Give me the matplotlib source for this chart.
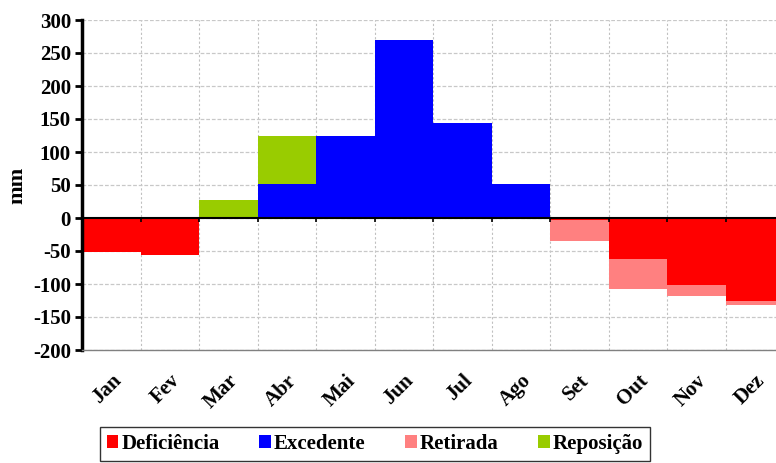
import matplotlib
matplotlib.use("Agg")
import matplotlib.pyplot as plt
import numpy as np
from matplotlib.patches import Patch

months = ["Jan", "Fev", "Mar", "Abr", "Mai", "Jun", "Jul", "Ago", "Set", "Out", "Nov", "Dez"]
deficiencia = [-51, -56, 0, 0, 0, 0, 0, 0, -3, -62, -101, -125]
retirada = [0, 0, 0, 0, 0, 0, 0, 0, -32, -46, -17, -7]
excedente = [0, 0, 0, 51, 124, 269, 144, 51, 0, 0, 0, 0]
reposicao = [0, 0, 28, 73, 0, 0, 0, 0, 0, 0, 0, 0]
yticks = list(range(-200, 301, 50))

c_def = "#FF0000"
c_exc = "#0000FF"
c_ret = "#FF8080"
c_rep = "#99CC00"

plt.rcParams["font.family"] = ["Liberation Serif", "DejaVu Serif"]
plt.rcParams["font.weight"] = "bold"

W, H = 776, 463
fig = plt.figure(figsize=(W / 100, H / 100), dpi=100)
ax = fig.add_axes([82 / W, 1 - 350 / H, (784 - 82) / W, 330 / H])

x = np.arange(len(months))
ax.bar(x, deficiencia, width=1.0, color=c_def, zorder=2)
ax.bar(x, retirada, width=1.0, bottom=deficiencia, color=c_ret, zorder=2)
ax.bar(x, excedente, width=1.0, color=c_exc, zorder=2)
ax.bar(x, reposicao, width=1.0, bottom=excedente, color=c_rep, zorder=2)

ax.set_xlim(-0.5, len(months) - 0.5)
ax.set_ylim(-200, 300)
ax.set_yticks(yticks)
ax.set_yticklabels([str(v) for v in yticks], fontsize=15, fontweight="bold")

# grid
bounds = np.arange(len(months) + 1) - 0.5
for b in bounds[1:-1]:
    ax.axvline(b, color="#c0c0c0", lw=0.8, ls=(0, (2, 2)), zorder=1)
for v in yticks:
    ax.axhline(v, color="#c8c8c8", lw=0.9, ls=(0, (3, 1.5)), zorder=1)

# zero axis with ticks
ax.axhline(0, color="black", lw=1.5, zorder=3)
ax.vlines(bounds, 0, -6, color="black", lw=1.2, zorder=3)

ax.set_xticks(x)
ax.set_xticklabels(months, rotation=45, ha="right", rotation_mode="anchor",
                   fontsize=15, fontweight="bold")
ax.tick_params(axis="x", length=0, pad=15)
ax.tick_params(axis="y", length=5, width=2, direction="out", pad=3, color="black")

for s in ["top", "right"]:
    ax.spines[s].set_visible(False)
ax.spines["left"].set_linewidth(2.5)
ax.spines["left"].set_color("black")
ax.spines["bottom"].set_color("#808080")
ax.spines["bottom"].set_linewidth(1.0)

ax.set_ylabel("mm", fontsize=16, fontweight="bold", labelpad=4)

handles = [Patch(facecolor=c_def, label="Deficiência"),
           Patch(facecolor=c_exc, label="Excedente"),
           Patch(facecolor=c_ret, label="Retirada"),
           Patch(facecolor=c_rep, label="Reposição")]
leg = fig.legend(handles=handles, loc="center", bbox_to_anchor=(375 / W, 1 - 444 / H),
                 ncol=4, frameon=True, fancybox=False,
                 edgecolor="black", handlelength=0.55, handleheight=0.55,
                 handletextpad=0.15, columnspacing=1.9, borderpad=0.35,
                 prop={"weight": "bold", "size": 15})
leg.get_frame().set_linewidth(1.0)

fig.savefig("out.png", dpi=100)
